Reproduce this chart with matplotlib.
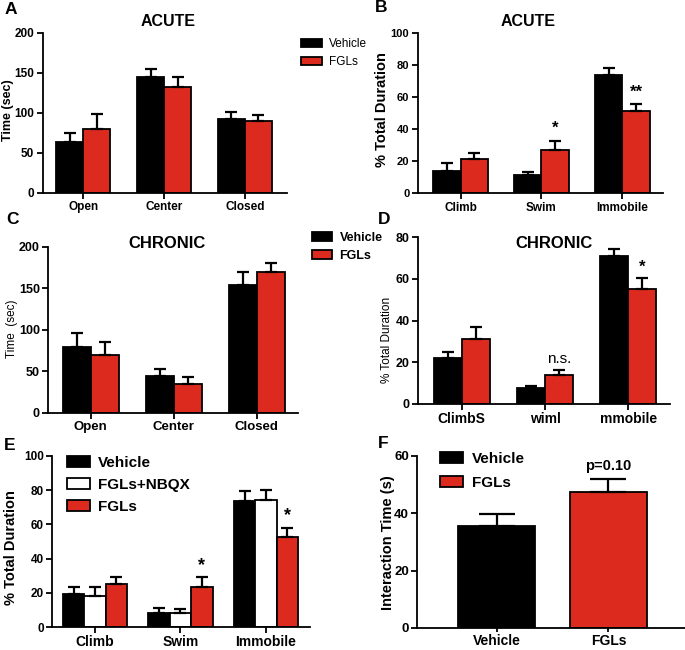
import matplotlib
matplotlib.use("Agg")
import matplotlib.pyplot as plt
import numpy as np

plt.rcParams['font.family'] = ['Liberation Sans', 'DejaVu Sans']

RED = '#DC2A1E'

# panel A - acute, time in zones
zones = ['Open', 'Center', 'Closed']
a_vehicle = [63, 145, 92.5]
a_vehicle_sem = [12, 9, 8]
a_fgls = [79, 132, 89]
a_fgls_sem = [19, 13, 7.5]

# panel B - acute, forced swim
b_behav = ['Climb', 'Swim', 'Immobile']
b_vehicle = [14.2, 11.7, 74]
b_vehicle_sem = [5, 1.8, 4]
b_fgls = [21.5, 26.9, 51.3]
b_fgls_sem = [3.7, 5.8, 4.3]
b_stars = ['', '*', '**']

# panel C - chronic, time in zones
c_vehicle = [79.5, 44.6, 153.4]
c_vehicle_sem = [16, 8, 15.6]
c_fgls = [69, 34.5, 169.5]
c_fgls_sem = [16, 9, 10.5]

# panel D - chronic, forced swim
d_behav = ['ClimbS', 'wiml', 'mmobile']
d_vehicle = [22.1, 7.5, 71]
d_vehicle_sem = [2.7, 1.1, 3.2]
d_fgls = [31, 13.8, 55.4]
d_fgls_sem = [5.8, 2.4, 5.2]
d_marks = ['', 'n.s.', '*']

# panel E - with NBQX
e_behav = ['Climb', 'Swim', 'Immobile']
e_vehicle = [19.3, 8.2, 73.7]
e_vehicle_sem = [4.1, 2.8, 5.8]
e_nbqx = [18, 8.2, 74.3]
e_nbqx_sem = [5.4, 2.3, 5.7]
e_fgls = [25, 23.4, 52.6]
e_fgls_sem = [4, 5.6, 5.4]
e_stars = ['', '*', '*']

# panel F - social interaction
f_groups = ['Vehicle', 'FGLs']
f_values = [35.7, 47.4]
f_sem = [3.9, 4.6]

W, H = 685, 650
fig = plt.figure(figsize=(W / 100, H / 100), dpi=100)


def px_axes(l, t, r, b):
    return fig.add_axes([l / W, 1 - b / H, (r - l) / W, (b - t) / H])


def fig_text(x, y, s, **kw):
    fig.text(x / W, 1 - y / H, s, **kw)


def style(ax, ylim, yticks, xlim, labels, tick_fs, xlab_fs, xpad=2):
    for s in ['top', 'right']:
        ax.spines[s].set_visible(False)
    for s in ['left', 'bottom']:
        ax.spines[s].set_linewidth(1.3)
    ax.set_ylim(*ylim)
    ax.set_yticks(yticks)
    ax.set_xlim(*xlim)
    ax.set_xticks(np.arange(len(labels)))
    ax.set_xticklabels(labels, fontsize=xlab_fs, fontweight='bold')
    ax.tick_params(axis='both', direction='out', length=4, width=1.3, pad=2)
    ax.tick_params(axis='x', pad=xpad)
    for lab in ax.get_yticklabels():
        lab.set_fontsize(tick_fs)
        lab.set_fontweight('bold')


def bars(ax, x, vals, sem, color, width, capsize=4.5):
    b = ax.bar(x, vals, width, color=color, edgecolor='black', linewidth=1.3, zorder=2)
    ax.errorbar(x, vals, yerr=[np.zeros(len(vals)), sem], fmt='none', ecolor='black',
                elinewidth=1.6, capsize=capsize, capthick=1.6, zorder=3)
    return b


x3 = np.arange(3)

# ---- A ----
axA = px_axes(42.7, 32.5, 286.7, 192.7)
w = 0.334
hv = bars(axA, x3 - w / 2, a_vehicle, a_vehicle_sem, 'black', w)
hf = bars(axA, x3 + w / 2, a_fgls, a_fgls_sem, RED, w)
style(axA, (0, 200), [0, 50, 100, 150, 200], (-0.502, 2.516), zones, 8.5, 8.5)
fig_text(168, 21, 'ACUTE', fontsize=11.5, fontweight='bold', ha='center', va='center')
fig_text(8, 110, 'Time (sec)', fontsize=9, fontweight='bold', rotation=90, ha='center', va='center')
fig.legend([hv, hf], ['Vehicle', 'FGLs'], loc='center left', bbox_to_anchor=(301 / W, 1 - 53 / H),
           frameon=False, fontsize=8.5, handlelength=1.8, handleheight=0.7, handletextpad=0.6,
           labelspacing=0.5, borderpad=0, borderaxespad=0)

# ---- B ----
axB = px_axes(417.7, 33.3, 663, 193.3)
w = 0.34
bars(axB, x3 - w / 2, b_vehicle, b_vehicle_sem, 'black', w)
bars(axB, x3 + w / 2, b_fgls, b_fgls_sem, RED, w)
style(axB, (0, 100), [0, 20, 40, 60, 80, 100], (-0.532, 2.504), b_behav, 8, 8.5)
for i, s in enumerate(b_stars):
    if s:
        axB.text(i + w / 2, b_fgls[i] + b_fgls_sem[i] + 3, s, ha='center', va='bottom',
                 fontsize=12, fontweight='bold')
fig_text(528, 21, 'ACUTE', fontsize=11.5, fontweight='bold', ha='center', va='center')
fig_text(382, 110, '% Total Duration', fontsize=10.5, fontweight='bold', rotation=90, ha='center', va='center')

# ---- C ----
axC = px_axes(48.3, 246.7, 298.3, 412.7)
w = 0.337
hv = bars(axC, x3 - w / 2, c_vehicle, c_vehicle_sem, 'black', w)
hf = bars(axC, x3 + w / 2, c_fgls, c_fgls_sem, RED, w)
style(axC, (0, 200), [0, 50, 100, 150, 200], (-0.511, 2.501), zones, 9, 9.5)
fig_text(167, 243, 'CHRONIC', fontsize=12, fontweight='bold', ha='center', va='center')
fig_text(12, 329, 'Time  (sec)', fontsize=8.5, rotation=90, ha='center', va='center')
fig.legend([hv, hf], ['Vehicle', 'FGLs'], loc='center left', bbox_to_anchor=(312 / W, 1 - 247 / H),
           frameon=False, handlelength=1.6, handleheight=0.7, handletextpad=0.6,
           labelspacing=0.45, borderpad=0, borderaxespad=0, prop={'weight': 'bold', 'size': 9})

# ---- D ----
axD = px_axes(418.3, 237.3, 670, 404)
w = 0.336
bars(axD, x3 - w / 2, d_vehicle, d_vehicle_sem, 'black', w)
bars(axD, x3 + w / 2, d_fgls, d_fgls_sem, RED, w)
style(axD, (0, 80), [0, 20, 40, 60, 80], (-0.521, 2.50), d_behav, 9, 10)
for i, s in enumerate(d_marks):
    if s == 'n.s.':
        axD.text(i + w / 2, d_fgls[i] + d_fgls_sem[i] + 2, s, ha='center', va='bottom', fontsize=11)
    elif s:
        axD.text(i + w / 2, d_fgls[i] + d_fgls_sem[i] + 1.5, s, ha='center', va='bottom',
                 fontsize=12, fontweight='bold')
fig_text(554, 243, 'CHRONIC', fontsize=12, fontweight='bold', ha='center', va='center')
fig_text(387, 340, '% Total Duration', fontsize=8.5, rotation=90, ha='center', va='center')

# ---- E ----
axE = px_axes(52, 456, 310, 627)
w = 0.25
hv = bars(axE, x3 - w, e_vehicle, e_vehicle_sem, 'black', w)
hn = bars(axE, x3, e_nbqx, e_nbqx_sem, 'white', w)
hf = bars(axE, x3 + w, e_fgls, e_fgls_sem, RED, w)
style(axE, (0, 100), [0, 20, 40, 60, 80, 100], (-0.503, 2.515), e_behav, 8.5, 10)
for i, s in enumerate(e_stars):
    if s:
        axE.text(i + w, e_fgls[i] + e_fgls_sem[i] + 2, s, ha='center', va='bottom',
                 fontsize=13, fontweight='bold')
fig_text(11, 548, '% Total Duration', fontsize=10.5, fontweight='bold', rotation=90, ha='center', va='center')
axE.legend([hv, hn, hf], ['Vehicle', 'FGLs+NBQX', 'FGLs'], loc='center left',
           bbox_to_anchor=(67 / W, 1 - 485 / H), bbox_transform=fig.transFigure,
           frameon=False, handlelength=1.5, handleheight=0.7, handletextpad=0.5,
           labelspacing=0.52, borderpad=0, borderaxespad=0, prop={'weight': 'bold', 'size': 11})

# ---- F ----
axF = px_axes(417.3, 456, 685, 628)
xf = np.arange(2)
w = 0.687
hv = axF.bar(xf[0], f_values[0], w, color='black', edgecolor='black', linewidth=1.3, zorder=2)
hf = axF.bar(xf[1], f_values[1], w, color=RED, edgecolor='black', linewidth=1.3, zorder=2)
axF.errorbar(xf, f_values, yerr=[np.zeros(2), f_sem], fmt='none', ecolor='black',
             elinewidth=1.6, capsize=13, capthick=1.6, zorder=3)
style(axF, (0, 60), [0, 20, 40, 60], (-0.711, 1.686), f_groups, 9.5, 10, xpad=1)
axF.tick_params(axis='x', length=3)
axF.text(xf[1], f_values[1] + f_sem[1] + 2.2, 'p=0.10', ha='center', va='bottom',
         fontsize=10.5, fontweight='bold')
fig_text(388, 543, 'Interaction Time (s)', fontsize=10.5, fontweight='bold', rotation=90, ha='center', va='center')
axF.legend([hv, hf], ['Vehicle', 'FGLs'], loc='center left',
           bbox_to_anchor=(440 / W, 1 - 471 / H), bbox_transform=fig.transFigure,
           frameon=False, handlelength=1.5, handleheight=0.7, handletextpad=0.6,
           labelspacing=0.65, borderpad=0, borderaxespad=0, prop={'weight': 'bold', 'size': 11})

# panel letters
for s, x, y in [('A', 11, 10), ('B', 381, 8), ('C', 12, 220), ('D', 384, 219), ('E', 10, 445), ('F', 383, 443)]:
    fig_text(x, y, s, fontsize=12.5, fontweight='bold', ha='center', va='center')

fig.savefig('out.png', dpi=100)
